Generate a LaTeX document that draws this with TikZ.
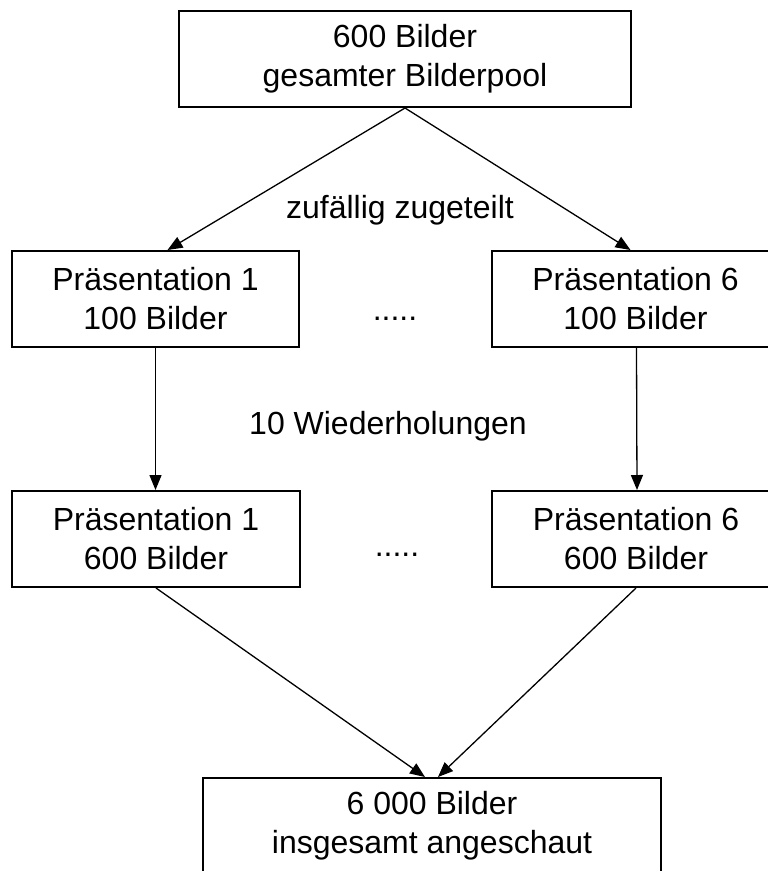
\documentclass[tikz,border=0pt]{standalone}
\usepackage{fontspec}
\setmainfont{Liberation Sans}
\usetikzlibrary{arrows.meta}
\tikzset{
  box/.style={draw, line width=2pt, minimum height=96pt, align=center, inner sep=0pt},
  lbl/.style={inner sep=0pt},
  pfeil/.style={line width=1.3pt, -{Triangle[length=15pt,width=12pt]}}
}
\begin{document}
\begin{tikzpicture}[x=1pt, y=-1pt, font=\fontsize{32}{39}\selectfont]
            \useasboundingbox (0,0) rectangle (768,871);
            \clip (0,0) rectangle (768,871);
            % Boxes
            \node[box, minimum width=452pt] (pool) at (405,59) {600 Bilder\\gesamter Bilderpool};
            \node[box, minimum width=287pt] (p1) at (155.5,299) {Präsentation 1\\100 Bilder};
            \node[box, minimum width=287pt] (p6) at (635.5,299) {Präsentation 6\\100 Bilder};
            \node[box, minimum width=288pt] (w1) at (156,539) {Präsentation 1\\600 Bilder};
            \node[box, minimum width=288pt] (w6) at (636,539) {Präsentation 6\\600 Bilder};
            \node[box, minimum width=458pt] (total) at (432,826) {6 000 Bilder\\insgesamt angeschaut};
            % Labels
            \node[lbl] (zuteil) at (400,210) {zufällig zugeteilt};
            \node[lbl] (wdh) at (388,426) {10 Wiederholungen};
            \node[lbl, anchor=base] (dotsA) at (395,320) {.....};
            \node[lbl, anchor=base] (dotsB) at (397,556) {.....};
            % Arrows
            \draw[pfeil] (pool.south) -- ([xshift=12pt]p1.north);
            \draw[pfeil] (pool.south) -- ([xshift=-5pt]p6.north);
            \draw[pfeil] (p1.south) -- (w1.north -| p1.south);
            \draw[pfeil] ([xshift=1pt]p6.south) -- ([xshift=1pt]w6.north);
            \draw[pfeil] (w1.south) -- ([xshift=-7pt]total.north);
            \draw[pfeil] (w6.south) -- ([xshift=6pt]total.north);
        \end{tikzpicture}
\end{document}
